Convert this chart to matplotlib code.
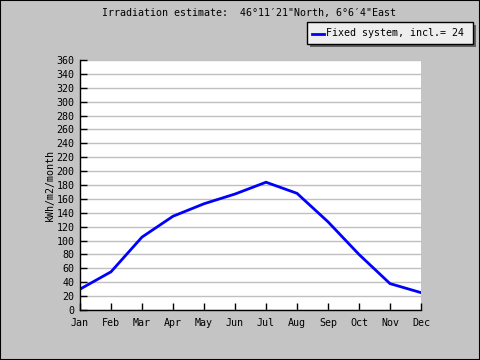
import matplotlib
matplotlib.use('Agg')
import matplotlib.pyplot as plt
from matplotlib.patches import Rectangle

months = ['Jan', 'Feb', 'Mar', 'Apr', 'May', 'Jun', 'Jul', 'Aug', 'Sep', 'Oct', 'Nov', 'Dec']
irradiation = [30, 55, 105, 135, 153, 167, 184, 168, 127, 80, 38, 25]
yticks = list(range(0, 361, 20))

title = 'Irradiation estimate:  46\u00b011\u203221"North, 6\u00b06\u20324"East'
label = 'Fixed system, incl.= 24'

bg = '#c4c4c4'
font = 'DejaVu Sans Mono'
fs = 7.2

fig = plt.figure(figsize=(4.8, 3.6), dpi=100, facecolor=bg)
ax = fig.add_axes([80/480, 1 - 310/360, 341/480, 250/360])
ax.set_facecolor('white')

x = range(len(months))
ax.plot(x, irradiation, color='#0000ff', lw=2, solid_joinstyle='miter')

ax.set_xlim(0, len(months) - 1)
ax.set_ylim(0, 360)
ax.set_xticks(list(x))
ax.set_xticklabels(months, family=font, fontsize=fs)
ax.set_yticks(yticks)
ax.set_yticklabels([str(v) for v in yticks], family=font, fontsize=fs)
ax.tick_params(direction='in', length=5, width=1, color='black')
ax.tick_params(axis='x', pad=6)
ax.tick_params(axis='y', pad=4)
ax.yaxis.grid(True, color='#c0c0c0', lw=1)
ax.set_axisbelow(True)
for s in ['top', 'right']:
    ax.spines[s].set_visible(False)
for s in ['left', 'bottom']:
    ax.spines[s].set_linewidth(1)

ax.set_ylabel('kWh/m2/month', family=font, fontsize=fs, labelpad=1)

fig.text(249/480, 1 - 13/360, title, ha='center', va='center', family=font, fontsize=fs)

# legend box with shadow
fig.patches.append(Rectangle((310/480, 1 - 47/360), 166/480, 22/360, transform=fig.transFigure,
                             facecolor='#606060', edgecolor='none'))
fig.patches.append(Rectangle((307/480, 1 - 44/360), 166/480, 22/360, transform=fig.transFigure,
                             facecolor='#eeeeee', edgecolor='black', lw=1))
fig.lines.append(plt.Line2D([312/480, 324/480], [1 - 34/360, 1 - 34/360], transform=fig.transFigure,
                            color='#0000ff', lw=2))
fig.text(326/480, 1 - 33/360, label, ha='left', va='center', family=font, fontsize=fs)

# outer border
fig.patches.append(Rectangle((0, 0), 1, 1, transform=fig.transFigure, fill=False,
                             edgecolor='black', lw=1.5))

fig.savefig('out.png', dpi=100, facecolor=bg)
